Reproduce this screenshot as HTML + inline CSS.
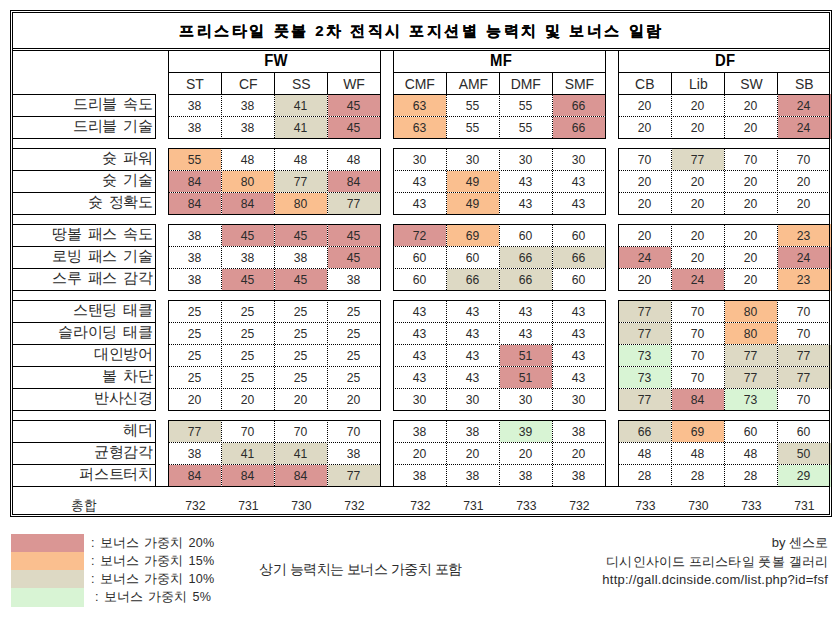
<!DOCTYPE html>
<html><head><meta charset="utf-8"><style>
html,body{margin:0;padding:0;background:#fff;}
body{width:837px;height:617px;position:relative;overflow:hidden;font-family:"Liberation Sans",sans-serif;color:#000;}
body>div{position:absolute;box-sizing:border-box;white-space:nowrap;}
.title{font-size:15px;font-weight:bold;letter-spacing:2.5px;text-indent:1px;-webkit-text-stroke:0.2px #000;}
span{display:inline-block;}
.sec{font-size:16px;font-weight:bold;letter-spacing:0.3px;text-indent:0.3px;}
.sec span{transform:scaleX(0.93);}
.hdr{font-size:15.5px;color:#2b2b2b;}
.hdr span{transform:scaleX(0.9);}
.lab{color:#2b2b2b;font-size:15px;letter-spacing:-0.2px;word-spacing:2.2px;}
.lab span{transform-origin:100% 50%;}
.num{font-size:13.5px;color:#2b2b2b;}
.num span{transform:scaleX(0.9);}
.tot{font-size:13.5px;color:#2b2b2b;}
.tot span{transform:scaleX(0.9);}
.leg{color:#2b2b2b;font-size:12.6px;letter-spacing:0.2px;word-spacing:1.2px;}
.leg2{color:#2b2b2b;font-size:14px;letter-spacing:-0.5px;text-indent:-0.5px;}
.cr{color:#2b2b2b;font-size:13px;}
.url{letter-spacing:0.25px;}
.kr2{letter-spacing:0.15px;}
</style></head><body>
<div style="left:10px;top:10px;width:822px;height:1px;background:#000;"></div>
<div style="left:10px;top:516px;width:822px;height:1px;background:#000;"></div>
<div style="left:10px;top:10px;width:1px;height:507px;background:#000;"></div>
<div style="left:831px;top:10px;width:1px;height:507px;background:#000;"></div>
<div style="left:12px;top:12px;width:818px;height:1px;background:#000;"></div>
<div style="left:12px;top:514px;width:818px;height:1px;background:#000;"></div>
<div style="left:12px;top:12px;width:1px;height:503px;background:#000;"></div>
<div style="left:829px;top:12px;width:1px;height:503px;background:#000;"></div>
<div style="left:12px;top:486px;width:818px;height:1px;background:#000;"></div>
<div style="left:12px;top:48px;width:818px;height:1px;background:#000;"></div>
<div style="left:12px;top:50px;width:818px;height:1px;background:#000;"></div>
<div class="title" style="left:12px;top:13px;width:817px;height:35px;line-height:35px;text-align:center;"><span>프리스타일 풋볼 2차 전직시 포지션별 능력치 및 보너스 일람</span></div>
<div style="left:168px;top:72px;width:213px;height:1px;background:#000;"></div>
<div style="left:168px;top:94px;width:213px;height:1px;background:#000;"></div>
<div style="left:168px;top:50px;width:1px;height:45px;background:#000;"></div>
<div style="left:380px;top:50px;width:1px;height:45px;background:#000;"></div>
<div class="sec" style="left:170px;top:50px;width:211px;height:21px;line-height:21px;text-align:center;"><span>FW</span></div>
<div class="hdr" style="left:169px;top:73px;width:52px;height:21px;line-height:21px;text-align:center;"><span>ST</span></div>
<div style="left:221px;top:72px;width:1px;height:23px;background:#000;"></div>
<div class="hdr" style="left:222px;top:73px;width:52px;height:21px;line-height:21px;text-align:center;"><span>CF</span></div>
<div style="left:274px;top:72px;width:1px;height:23px;background:#000;"></div>
<div class="hdr" style="left:275px;top:73px;width:52px;height:21px;line-height:21px;text-align:center;"><span>SS</span></div>
<div style="left:327px;top:72px;width:1px;height:23px;background:#000;"></div>
<div class="hdr" style="left:328px;top:73px;width:52px;height:21px;line-height:21px;text-align:center;"><span>WF</span></div>
<div style="left:393px;top:72px;width:213px;height:1px;background:#000;"></div>
<div style="left:393px;top:94px;width:213px;height:1px;background:#000;"></div>
<div style="left:393px;top:50px;width:1px;height:45px;background:#000;"></div>
<div style="left:605px;top:50px;width:1px;height:45px;background:#000;"></div>
<div class="sec" style="left:395px;top:50px;width:211px;height:21px;line-height:21px;text-align:center;"><span>MF</span></div>
<div class="hdr" style="left:394px;top:73px;width:52px;height:21px;line-height:21px;text-align:center;"><span>CMF</span></div>
<div style="left:446px;top:72px;width:1px;height:23px;background:#000;"></div>
<div class="hdr" style="left:447px;top:73px;width:52px;height:21px;line-height:21px;text-align:center;"><span>AMF</span></div>
<div style="left:499px;top:72px;width:1px;height:23px;background:#000;"></div>
<div class="hdr" style="left:500px;top:73px;width:52px;height:21px;line-height:21px;text-align:center;"><span>DMF</span></div>
<div style="left:552px;top:72px;width:1px;height:23px;background:#000;"></div>
<div class="hdr" style="left:553px;top:73px;width:52px;height:21px;line-height:21px;text-align:center;"><span>SMF</span></div>
<div style="left:618px;top:72px;width:212px;height:1px;background:#000;"></div>
<div style="left:618px;top:94px;width:212px;height:1px;background:#000;"></div>
<div style="left:618px;top:50px;width:1px;height:45px;background:#000;"></div>
<div style="left:829px;top:50px;width:1px;height:45px;background:#000;"></div>
<div class="sec" style="left:620px;top:50px;width:210px;height:21px;line-height:21px;text-align:center;"><span>DF</span></div>
<div class="hdr" style="left:619px;top:73px;width:52px;height:21px;line-height:21px;text-align:center;"><span>CB</span></div>
<div style="left:671px;top:72px;width:1px;height:23px;background:#000;"></div>
<div class="hdr" style="left:672px;top:73px;width:52px;height:21px;line-height:21px;text-align:center;"><span>Lib</span></div>
<div style="left:724px;top:72px;width:1px;height:23px;background:#000;"></div>
<div class="hdr" style="left:725px;top:73px;width:52px;height:21px;line-height:21px;text-align:center;"><span>SW</span></div>
<div style="left:777px;top:72px;width:1px;height:23px;background:#000;"></div>
<div class="hdr" style="left:778px;top:73px;width:52px;height:21px;line-height:21px;text-align:center;"><span>SB</span></div>
<div style="left:12px;top:94px;width:144px;height:1px;background:#000;"></div>
<div style="left:12px;top:138px;width:144px;height:1px;background:#000;"></div>
<div style="left:155px;top:94px;width:1px;height:45px;background:#000;"></div>
<div class="lab" style="left:13px;top:93px;width:140px;height:21px;line-height:21px;text-align:right;"><span>드리블 속도</span></div>
<div style="left:12px;top:116px;width:144px;height:1px;background:#000;"></div>
<div class="lab" style="left:13px;top:115px;width:140px;height:21px;line-height:21px;text-align:right;"><span>드리블 기술</span></div>
<div class="num" style="left:169px;top:95px;width:52px;height:21px;line-height:21px;text-align:center;"><span>38</span></div>
<div class="num" style="left:222px;top:95px;width:52px;height:21px;line-height:21px;text-align:center;"><span>38</span></div>
<div style="left:275px;top:95px;width:52px;height:21px;background:#DDD9C4;"></div>
<div class="num" style="left:275px;top:95px;width:52px;height:21px;line-height:21px;text-align:center;"><span>41</span></div>
<div style="left:328px;top:95px;width:52px;height:21px;background:#DA9694;"></div>
<div class="num" style="left:328px;top:95px;width:52px;height:21px;line-height:21px;text-align:center;"><span>45</span></div>
<div class="num" style="left:169px;top:117px;width:52px;height:21px;line-height:21px;text-align:center;"><span>38</span></div>
<div class="num" style="left:222px;top:117px;width:52px;height:21px;line-height:21px;text-align:center;"><span>38</span></div>
<div style="left:275px;top:117px;width:52px;height:21px;background:#DDD9C4;"></div>
<div class="num" style="left:275px;top:117px;width:52px;height:21px;line-height:21px;text-align:center;"><span>41</span></div>
<div style="left:328px;top:117px;width:52px;height:21px;background:#DA9694;"></div>
<div class="num" style="left:328px;top:117px;width:52px;height:21px;line-height:21px;text-align:center;"><span>45</span></div>
<div style="left:168px;top:94px;width:213px;height:1px;background:#000;"></div>
<div style="left:168px;top:138px;width:213px;height:1px;background:#000;"></div>
<div style="left:168px;top:94px;width:1px;height:45px;background:#000;"></div>
<div style="left:380px;top:94px;width:1px;height:45px;background:#000;"></div>
<div style="left:169px;top:116px;width:211px;height:1px;background:repeating-linear-gradient(to right,#000 0 1px,#fff 1px 2px);"></div>
<div style="left:221px;top:95px;width:1px;height:43px;background:repeating-linear-gradient(to bottom,#fff 0 1px,#000 1px 2px);"></div>
<div style="left:274px;top:95px;width:1px;height:43px;background:repeating-linear-gradient(to bottom,#000 0 1px,#fff 1px 2px);"></div>
<div style="left:327px;top:95px;width:1px;height:43px;background:repeating-linear-gradient(to bottom,#fff 0 1px,#000 1px 2px);"></div>
<div style="left:394px;top:95px;width:52px;height:21px;background:#FABF8F;"></div>
<div class="num" style="left:394px;top:95px;width:52px;height:21px;line-height:21px;text-align:center;"><span>63</span></div>
<div class="num" style="left:447px;top:95px;width:52px;height:21px;line-height:21px;text-align:center;"><span>55</span></div>
<div class="num" style="left:500px;top:95px;width:52px;height:21px;line-height:21px;text-align:center;"><span>55</span></div>
<div style="left:553px;top:95px;width:52px;height:21px;background:#DA9694;"></div>
<div class="num" style="left:553px;top:95px;width:52px;height:21px;line-height:21px;text-align:center;"><span>66</span></div>
<div style="left:394px;top:117px;width:52px;height:21px;background:#FABF8F;"></div>
<div class="num" style="left:394px;top:117px;width:52px;height:21px;line-height:21px;text-align:center;"><span>63</span></div>
<div class="num" style="left:447px;top:117px;width:52px;height:21px;line-height:21px;text-align:center;"><span>55</span></div>
<div class="num" style="left:500px;top:117px;width:52px;height:21px;line-height:21px;text-align:center;"><span>55</span></div>
<div style="left:553px;top:117px;width:52px;height:21px;background:#DA9694;"></div>
<div class="num" style="left:553px;top:117px;width:52px;height:21px;line-height:21px;text-align:center;"><span>66</span></div>
<div style="left:393px;top:94px;width:213px;height:1px;background:#000;"></div>
<div style="left:393px;top:138px;width:213px;height:1px;background:#000;"></div>
<div style="left:393px;top:94px;width:1px;height:45px;background:#000;"></div>
<div style="left:605px;top:94px;width:1px;height:45px;background:#000;"></div>
<div style="left:394px;top:116px;width:211px;height:1px;background:repeating-linear-gradient(to right,#fff 0 1px,#000 1px 2px);"></div>
<div style="left:446px;top:95px;width:1px;height:43px;background:repeating-linear-gradient(to bottom,#000 0 1px,#fff 1px 2px);"></div>
<div style="left:499px;top:95px;width:1px;height:43px;background:repeating-linear-gradient(to bottom,#fff 0 1px,#000 1px 2px);"></div>
<div style="left:552px;top:95px;width:1px;height:43px;background:repeating-linear-gradient(to bottom,#000 0 1px,#fff 1px 2px);"></div>
<div class="num" style="left:619px;top:95px;width:52px;height:21px;line-height:21px;text-align:center;"><span>20</span></div>
<div class="num" style="left:672px;top:95px;width:52px;height:21px;line-height:21px;text-align:center;"><span>20</span></div>
<div class="num" style="left:725px;top:95px;width:52px;height:21px;line-height:21px;text-align:center;"><span>20</span></div>
<div style="left:778px;top:95px;width:52px;height:21px;background:#DA9694;"></div>
<div style="left:830px;top:94px;width:1px;height:23px;background:#DA9694;"></div>
<div class="num" style="left:778px;top:95px;width:52px;height:21px;line-height:21px;text-align:center;"><span>24</span></div>
<div class="num" style="left:619px;top:117px;width:52px;height:21px;line-height:21px;text-align:center;"><span>20</span></div>
<div class="num" style="left:672px;top:117px;width:52px;height:21px;line-height:21px;text-align:center;"><span>20</span></div>
<div class="num" style="left:725px;top:117px;width:52px;height:21px;line-height:21px;text-align:center;"><span>20</span></div>
<div style="left:778px;top:117px;width:52px;height:21px;background:#DA9694;"></div>
<div style="left:830px;top:117px;width:1px;height:22px;background:#DA9694;"></div>
<div class="num" style="left:778px;top:117px;width:52px;height:21px;line-height:21px;text-align:center;"><span>24</span></div>
<div style="left:618px;top:94px;width:212px;height:1px;background:#000;"></div>
<div style="left:618px;top:138px;width:212px;height:1px;background:#000;"></div>
<div style="left:618px;top:94px;width:1px;height:45px;background:#000;"></div>
<div style="left:829px;top:94px;width:1px;height:45px;background:#000;"></div>
<div style="left:619px;top:116px;width:210px;height:1px;background:repeating-linear-gradient(to right,#000 0 1px,#fff 1px 2px);"></div>
<div style="left:671px;top:95px;width:1px;height:43px;background:repeating-linear-gradient(to bottom,#fff 0 1px,#000 1px 2px);"></div>
<div style="left:724px;top:95px;width:1px;height:43px;background:repeating-linear-gradient(to bottom,#000 0 1px,#fff 1px 2px);"></div>
<div style="left:777px;top:95px;width:1px;height:43px;background:repeating-linear-gradient(to bottom,#fff 0 1px,#000 1px 2px);"></div>
<div style="left:12px;top:148px;width:144px;height:1px;background:#000;"></div>
<div style="left:12px;top:214px;width:144px;height:1px;background:#000;"></div>
<div style="left:155px;top:148px;width:1px;height:67px;background:#000;"></div>
<div class="lab" style="left:13px;top:147px;width:140px;height:21px;line-height:21px;text-align:right;"><span>슛 파워</span></div>
<div style="left:12px;top:170px;width:144px;height:1px;background:#000;"></div>
<div class="lab" style="left:13px;top:169px;width:140px;height:21px;line-height:21px;text-align:right;"><span>슛 기술</span></div>
<div style="left:12px;top:192px;width:144px;height:1px;background:#000;"></div>
<div class="lab" style="left:13px;top:191px;width:140px;height:21px;line-height:21px;text-align:right;"><span>슛 정확도</span></div>
<div style="left:169px;top:149px;width:52px;height:21px;background:#FABF8F;"></div>
<div class="num" style="left:169px;top:149px;width:52px;height:21px;line-height:21px;text-align:center;"><span>55</span></div>
<div class="num" style="left:222px;top:149px;width:52px;height:21px;line-height:21px;text-align:center;"><span>48</span></div>
<div class="num" style="left:275px;top:149px;width:52px;height:21px;line-height:21px;text-align:center;"><span>48</span></div>
<div class="num" style="left:328px;top:149px;width:52px;height:21px;line-height:21px;text-align:center;"><span>48</span></div>
<div style="left:169px;top:171px;width:52px;height:21px;background:#DA9694;"></div>
<div class="num" style="left:169px;top:171px;width:52px;height:21px;line-height:21px;text-align:center;"><span>84</span></div>
<div style="left:222px;top:171px;width:52px;height:21px;background:#FABF8F;"></div>
<div class="num" style="left:222px;top:171px;width:52px;height:21px;line-height:21px;text-align:center;"><span>80</span></div>
<div style="left:275px;top:171px;width:52px;height:21px;background:#DDD9C4;"></div>
<div class="num" style="left:275px;top:171px;width:52px;height:21px;line-height:21px;text-align:center;"><span>77</span></div>
<div style="left:328px;top:171px;width:52px;height:21px;background:#DA9694;"></div>
<div class="num" style="left:328px;top:171px;width:52px;height:21px;line-height:21px;text-align:center;"><span>84</span></div>
<div style="left:169px;top:193px;width:52px;height:21px;background:#DA9694;"></div>
<div class="num" style="left:169px;top:193px;width:52px;height:21px;line-height:21px;text-align:center;"><span>84</span></div>
<div style="left:222px;top:193px;width:52px;height:21px;background:#DA9694;"></div>
<div class="num" style="left:222px;top:193px;width:52px;height:21px;line-height:21px;text-align:center;"><span>84</span></div>
<div style="left:275px;top:193px;width:52px;height:21px;background:#FABF8F;"></div>
<div class="num" style="left:275px;top:193px;width:52px;height:21px;line-height:21px;text-align:center;"><span>80</span></div>
<div style="left:328px;top:193px;width:52px;height:21px;background:#DDD9C4;"></div>
<div class="num" style="left:328px;top:193px;width:52px;height:21px;line-height:21px;text-align:center;"><span>77</span></div>
<div style="left:168px;top:148px;width:213px;height:1px;background:#000;"></div>
<div style="left:168px;top:214px;width:213px;height:1px;background:#000;"></div>
<div style="left:168px;top:148px;width:1px;height:67px;background:#000;"></div>
<div style="left:380px;top:148px;width:1px;height:67px;background:#000;"></div>
<div style="left:169px;top:170px;width:211px;height:1px;background:repeating-linear-gradient(to right,#000 0 1px,#fff 1px 2px);"></div>
<div style="left:169px;top:192px;width:211px;height:1px;background:repeating-linear-gradient(to right,#000 0 1px,#fff 1px 2px);"></div>
<div style="left:221px;top:149px;width:1px;height:65px;background:repeating-linear-gradient(to bottom,#fff 0 1px,#000 1px 2px);"></div>
<div style="left:274px;top:149px;width:1px;height:65px;background:repeating-linear-gradient(to bottom,#000 0 1px,#fff 1px 2px);"></div>
<div style="left:327px;top:149px;width:1px;height:65px;background:repeating-linear-gradient(to bottom,#fff 0 1px,#000 1px 2px);"></div>
<div class="num" style="left:394px;top:149px;width:52px;height:21px;line-height:21px;text-align:center;"><span>30</span></div>
<div class="num" style="left:447px;top:149px;width:52px;height:21px;line-height:21px;text-align:center;"><span>30</span></div>
<div class="num" style="left:500px;top:149px;width:52px;height:21px;line-height:21px;text-align:center;"><span>30</span></div>
<div class="num" style="left:553px;top:149px;width:52px;height:21px;line-height:21px;text-align:center;"><span>30</span></div>
<div class="num" style="left:394px;top:171px;width:52px;height:21px;line-height:21px;text-align:center;"><span>43</span></div>
<div style="left:447px;top:171px;width:52px;height:21px;background:#FABF8F;"></div>
<div class="num" style="left:447px;top:171px;width:52px;height:21px;line-height:21px;text-align:center;"><span>49</span></div>
<div class="num" style="left:500px;top:171px;width:52px;height:21px;line-height:21px;text-align:center;"><span>43</span></div>
<div class="num" style="left:553px;top:171px;width:52px;height:21px;line-height:21px;text-align:center;"><span>43</span></div>
<div class="num" style="left:394px;top:193px;width:52px;height:21px;line-height:21px;text-align:center;"><span>43</span></div>
<div style="left:447px;top:193px;width:52px;height:21px;background:#FABF8F;"></div>
<div class="num" style="left:447px;top:193px;width:52px;height:21px;line-height:21px;text-align:center;"><span>49</span></div>
<div class="num" style="left:500px;top:193px;width:52px;height:21px;line-height:21px;text-align:center;"><span>43</span></div>
<div class="num" style="left:553px;top:193px;width:52px;height:21px;line-height:21px;text-align:center;"><span>43</span></div>
<div style="left:393px;top:148px;width:213px;height:1px;background:#000;"></div>
<div style="left:393px;top:214px;width:213px;height:1px;background:#000;"></div>
<div style="left:393px;top:148px;width:1px;height:67px;background:#000;"></div>
<div style="left:605px;top:148px;width:1px;height:67px;background:#000;"></div>
<div style="left:394px;top:170px;width:211px;height:1px;background:repeating-linear-gradient(to right,#fff 0 1px,#000 1px 2px);"></div>
<div style="left:394px;top:192px;width:211px;height:1px;background:repeating-linear-gradient(to right,#fff 0 1px,#000 1px 2px);"></div>
<div style="left:446px;top:149px;width:1px;height:65px;background:repeating-linear-gradient(to bottom,#000 0 1px,#fff 1px 2px);"></div>
<div style="left:499px;top:149px;width:1px;height:65px;background:repeating-linear-gradient(to bottom,#fff 0 1px,#000 1px 2px);"></div>
<div style="left:552px;top:149px;width:1px;height:65px;background:repeating-linear-gradient(to bottom,#000 0 1px,#fff 1px 2px);"></div>
<div class="num" style="left:619px;top:149px;width:52px;height:21px;line-height:21px;text-align:center;"><span>70</span></div>
<div style="left:672px;top:149px;width:52px;height:21px;background:#DDD9C4;"></div>
<div class="num" style="left:672px;top:149px;width:52px;height:21px;line-height:21px;text-align:center;"><span>77</span></div>
<div class="num" style="left:725px;top:149px;width:52px;height:21px;line-height:21px;text-align:center;"><span>70</span></div>
<div class="num" style="left:778px;top:149px;width:52px;height:21px;line-height:21px;text-align:center;"><span>70</span></div>
<div class="num" style="left:619px;top:171px;width:52px;height:21px;line-height:21px;text-align:center;"><span>20</span></div>
<div class="num" style="left:672px;top:171px;width:52px;height:21px;line-height:21px;text-align:center;"><span>20</span></div>
<div class="num" style="left:725px;top:171px;width:52px;height:21px;line-height:21px;text-align:center;"><span>20</span></div>
<div class="num" style="left:778px;top:171px;width:52px;height:21px;line-height:21px;text-align:center;"><span>20</span></div>
<div class="num" style="left:619px;top:193px;width:52px;height:21px;line-height:21px;text-align:center;"><span>20</span></div>
<div class="num" style="left:672px;top:193px;width:52px;height:21px;line-height:21px;text-align:center;"><span>20</span></div>
<div class="num" style="left:725px;top:193px;width:52px;height:21px;line-height:21px;text-align:center;"><span>20</span></div>
<div class="num" style="left:778px;top:193px;width:52px;height:21px;line-height:21px;text-align:center;"><span>20</span></div>
<div style="left:618px;top:148px;width:212px;height:1px;background:#000;"></div>
<div style="left:618px;top:214px;width:212px;height:1px;background:#000;"></div>
<div style="left:618px;top:148px;width:1px;height:67px;background:#000;"></div>
<div style="left:829px;top:148px;width:1px;height:67px;background:#000;"></div>
<div style="left:619px;top:170px;width:210px;height:1px;background:repeating-linear-gradient(to right,#000 0 1px,#fff 1px 2px);"></div>
<div style="left:619px;top:192px;width:210px;height:1px;background:repeating-linear-gradient(to right,#000 0 1px,#fff 1px 2px);"></div>
<div style="left:671px;top:149px;width:1px;height:65px;background:repeating-linear-gradient(to bottom,#fff 0 1px,#000 1px 2px);"></div>
<div style="left:724px;top:149px;width:1px;height:65px;background:repeating-linear-gradient(to bottom,#000 0 1px,#fff 1px 2px);"></div>
<div style="left:777px;top:149px;width:1px;height:65px;background:repeating-linear-gradient(to bottom,#fff 0 1px,#000 1px 2px);"></div>
<div style="left:12px;top:224px;width:144px;height:1px;background:#000;"></div>
<div style="left:12px;top:290px;width:144px;height:1px;background:#000;"></div>
<div style="left:155px;top:224px;width:1px;height:67px;background:#000;"></div>
<div class="lab" style="left:13px;top:223px;width:140px;height:21px;line-height:21px;text-align:right;"><span>땅볼 패스 속도</span></div>
<div style="left:12px;top:246px;width:144px;height:1px;background:#000;"></div>
<div class="lab" style="left:13px;top:245px;width:140px;height:21px;line-height:21px;text-align:right;"><span>로빙 패스 기술</span></div>
<div style="left:12px;top:268px;width:144px;height:1px;background:#000;"></div>
<div class="lab" style="left:13px;top:267px;width:140px;height:21px;line-height:21px;text-align:right;"><span>스루 패스 감각</span></div>
<div class="num" style="left:169px;top:225px;width:52px;height:21px;line-height:21px;text-align:center;"><span>38</span></div>
<div style="left:222px;top:225px;width:52px;height:21px;background:#DA9694;"></div>
<div class="num" style="left:222px;top:225px;width:52px;height:21px;line-height:21px;text-align:center;"><span>45</span></div>
<div style="left:275px;top:225px;width:52px;height:21px;background:#DA9694;"></div>
<div class="num" style="left:275px;top:225px;width:52px;height:21px;line-height:21px;text-align:center;"><span>45</span></div>
<div style="left:328px;top:225px;width:52px;height:21px;background:#DA9694;"></div>
<div class="num" style="left:328px;top:225px;width:52px;height:21px;line-height:21px;text-align:center;"><span>45</span></div>
<div class="num" style="left:169px;top:247px;width:52px;height:21px;line-height:21px;text-align:center;"><span>38</span></div>
<div class="num" style="left:222px;top:247px;width:52px;height:21px;line-height:21px;text-align:center;"><span>38</span></div>
<div class="num" style="left:275px;top:247px;width:52px;height:21px;line-height:21px;text-align:center;"><span>38</span></div>
<div style="left:328px;top:247px;width:52px;height:21px;background:#DA9694;"></div>
<div class="num" style="left:328px;top:247px;width:52px;height:21px;line-height:21px;text-align:center;"><span>45</span></div>
<div class="num" style="left:169px;top:269px;width:52px;height:21px;line-height:21px;text-align:center;"><span>38</span></div>
<div style="left:222px;top:269px;width:52px;height:21px;background:#DA9694;"></div>
<div class="num" style="left:222px;top:269px;width:52px;height:21px;line-height:21px;text-align:center;"><span>45</span></div>
<div style="left:275px;top:269px;width:52px;height:21px;background:#DA9694;"></div>
<div class="num" style="left:275px;top:269px;width:52px;height:21px;line-height:21px;text-align:center;"><span>45</span></div>
<div class="num" style="left:328px;top:269px;width:52px;height:21px;line-height:21px;text-align:center;"><span>38</span></div>
<div style="left:168px;top:224px;width:213px;height:1px;background:#000;"></div>
<div style="left:168px;top:290px;width:213px;height:1px;background:#000;"></div>
<div style="left:168px;top:224px;width:1px;height:67px;background:#000;"></div>
<div style="left:380px;top:224px;width:1px;height:67px;background:#000;"></div>
<div style="left:169px;top:246px;width:211px;height:1px;background:repeating-linear-gradient(to right,#000 0 1px,#fff 1px 2px);"></div>
<div style="left:169px;top:268px;width:211px;height:1px;background:repeating-linear-gradient(to right,#000 0 1px,#fff 1px 2px);"></div>
<div style="left:221px;top:225px;width:1px;height:65px;background:repeating-linear-gradient(to bottom,#fff 0 1px,#000 1px 2px);"></div>
<div style="left:274px;top:225px;width:1px;height:65px;background:repeating-linear-gradient(to bottom,#000 0 1px,#fff 1px 2px);"></div>
<div style="left:327px;top:225px;width:1px;height:65px;background:repeating-linear-gradient(to bottom,#fff 0 1px,#000 1px 2px);"></div>
<div style="left:394px;top:225px;width:52px;height:21px;background:#DA9694;"></div>
<div class="num" style="left:394px;top:225px;width:52px;height:21px;line-height:21px;text-align:center;"><span>72</span></div>
<div style="left:447px;top:225px;width:52px;height:21px;background:#FABF8F;"></div>
<div class="num" style="left:447px;top:225px;width:52px;height:21px;line-height:21px;text-align:center;"><span>69</span></div>
<div class="num" style="left:500px;top:225px;width:52px;height:21px;line-height:21px;text-align:center;"><span>60</span></div>
<div class="num" style="left:553px;top:225px;width:52px;height:21px;line-height:21px;text-align:center;"><span>60</span></div>
<div class="num" style="left:394px;top:247px;width:52px;height:21px;line-height:21px;text-align:center;"><span>60</span></div>
<div class="num" style="left:447px;top:247px;width:52px;height:21px;line-height:21px;text-align:center;"><span>60</span></div>
<div style="left:500px;top:247px;width:52px;height:21px;background:#DDD9C4;"></div>
<div class="num" style="left:500px;top:247px;width:52px;height:21px;line-height:21px;text-align:center;"><span>66</span></div>
<div style="left:553px;top:247px;width:52px;height:21px;background:#DDD9C4;"></div>
<div class="num" style="left:553px;top:247px;width:52px;height:21px;line-height:21px;text-align:center;"><span>66</span></div>
<div class="num" style="left:394px;top:269px;width:52px;height:21px;line-height:21px;text-align:center;"><span>60</span></div>
<div style="left:447px;top:269px;width:52px;height:21px;background:#DDD9C4;"></div>
<div class="num" style="left:447px;top:269px;width:52px;height:21px;line-height:21px;text-align:center;"><span>66</span></div>
<div style="left:500px;top:269px;width:52px;height:21px;background:#DDD9C4;"></div>
<div class="num" style="left:500px;top:269px;width:52px;height:21px;line-height:21px;text-align:center;"><span>66</span></div>
<div class="num" style="left:553px;top:269px;width:52px;height:21px;line-height:21px;text-align:center;"><span>60</span></div>
<div style="left:393px;top:224px;width:213px;height:1px;background:#000;"></div>
<div style="left:393px;top:290px;width:213px;height:1px;background:#000;"></div>
<div style="left:393px;top:224px;width:1px;height:67px;background:#000;"></div>
<div style="left:605px;top:224px;width:1px;height:67px;background:#000;"></div>
<div style="left:394px;top:246px;width:211px;height:1px;background:repeating-linear-gradient(to right,#fff 0 1px,#000 1px 2px);"></div>
<div style="left:394px;top:268px;width:211px;height:1px;background:repeating-linear-gradient(to right,#fff 0 1px,#000 1px 2px);"></div>
<div style="left:446px;top:225px;width:1px;height:65px;background:repeating-linear-gradient(to bottom,#000 0 1px,#fff 1px 2px);"></div>
<div style="left:499px;top:225px;width:1px;height:65px;background:repeating-linear-gradient(to bottom,#fff 0 1px,#000 1px 2px);"></div>
<div style="left:552px;top:225px;width:1px;height:65px;background:repeating-linear-gradient(to bottom,#000 0 1px,#fff 1px 2px);"></div>
<div class="num" style="left:619px;top:225px;width:52px;height:21px;line-height:21px;text-align:center;"><span>20</span></div>
<div class="num" style="left:672px;top:225px;width:52px;height:21px;line-height:21px;text-align:center;"><span>20</span></div>
<div class="num" style="left:725px;top:225px;width:52px;height:21px;line-height:21px;text-align:center;"><span>20</span></div>
<div style="left:778px;top:225px;width:52px;height:21px;background:#FABF8F;"></div>
<div style="left:830px;top:224px;width:1px;height:23px;background:#FABF8F;"></div>
<div class="num" style="left:778px;top:225px;width:52px;height:21px;line-height:21px;text-align:center;"><span>23</span></div>
<div style="left:619px;top:247px;width:52px;height:21px;background:#DA9694;"></div>
<div class="num" style="left:619px;top:247px;width:52px;height:21px;line-height:21px;text-align:center;"><span>24</span></div>
<div class="num" style="left:672px;top:247px;width:52px;height:21px;line-height:21px;text-align:center;"><span>20</span></div>
<div class="num" style="left:725px;top:247px;width:52px;height:21px;line-height:21px;text-align:center;"><span>20</span></div>
<div style="left:778px;top:247px;width:52px;height:21px;background:#DA9694;"></div>
<div style="left:830px;top:247px;width:1px;height:22px;background:#DA9694;"></div>
<div class="num" style="left:778px;top:247px;width:52px;height:21px;line-height:21px;text-align:center;"><span>24</span></div>
<div class="num" style="left:619px;top:269px;width:52px;height:21px;line-height:21px;text-align:center;"><span>20</span></div>
<div style="left:672px;top:269px;width:52px;height:21px;background:#DA9694;"></div>
<div class="num" style="left:672px;top:269px;width:52px;height:21px;line-height:21px;text-align:center;"><span>24</span></div>
<div class="num" style="left:725px;top:269px;width:52px;height:21px;line-height:21px;text-align:center;"><span>20</span></div>
<div style="left:778px;top:269px;width:52px;height:21px;background:#FABF8F;"></div>
<div style="left:830px;top:269px;width:1px;height:22px;background:#FABF8F;"></div>
<div class="num" style="left:778px;top:269px;width:52px;height:21px;line-height:21px;text-align:center;"><span>23</span></div>
<div style="left:618px;top:224px;width:212px;height:1px;background:#000;"></div>
<div style="left:618px;top:290px;width:212px;height:1px;background:#000;"></div>
<div style="left:618px;top:224px;width:1px;height:67px;background:#000;"></div>
<div style="left:829px;top:224px;width:1px;height:67px;background:#000;"></div>
<div style="left:619px;top:246px;width:210px;height:1px;background:repeating-linear-gradient(to right,#000 0 1px,#fff 1px 2px);"></div>
<div style="left:619px;top:268px;width:210px;height:1px;background:repeating-linear-gradient(to right,#000 0 1px,#fff 1px 2px);"></div>
<div style="left:671px;top:225px;width:1px;height:65px;background:repeating-linear-gradient(to bottom,#fff 0 1px,#000 1px 2px);"></div>
<div style="left:724px;top:225px;width:1px;height:65px;background:repeating-linear-gradient(to bottom,#000 0 1px,#fff 1px 2px);"></div>
<div style="left:777px;top:225px;width:1px;height:65px;background:repeating-linear-gradient(to bottom,#fff 0 1px,#000 1px 2px);"></div>
<div style="left:12px;top:300px;width:144px;height:1px;background:#000;"></div>
<div style="left:12px;top:410px;width:144px;height:1px;background:#000;"></div>
<div style="left:155px;top:300px;width:1px;height:111px;background:#000;"></div>
<div class="lab" style="left:13px;top:299px;width:140px;height:21px;line-height:21px;text-align:right;"><span>스탠딩 태클</span></div>
<div style="left:12px;top:322px;width:144px;height:1px;background:#000;"></div>
<div class="lab" style="left:13px;top:321px;width:140px;height:21px;line-height:21px;text-align:right;"><span>슬라이딩 태클</span></div>
<div style="left:12px;top:344px;width:144px;height:1px;background:#000;"></div>
<div class="lab" style="left:13px;top:343px;width:140px;height:21px;line-height:21px;text-align:right;"><span>대인방어</span></div>
<div style="left:12px;top:366px;width:144px;height:1px;background:#000;"></div>
<div class="lab" style="left:13px;top:365px;width:140px;height:21px;line-height:21px;text-align:right;"><span>볼 차단</span></div>
<div style="left:12px;top:388px;width:144px;height:1px;background:#000;"></div>
<div class="lab" style="left:13px;top:387px;width:140px;height:21px;line-height:21px;text-align:right;"><span>반사신경</span></div>
<div class="num" style="left:169px;top:301px;width:52px;height:21px;line-height:21px;text-align:center;"><span>25</span></div>
<div class="num" style="left:222px;top:301px;width:52px;height:21px;line-height:21px;text-align:center;"><span>25</span></div>
<div class="num" style="left:275px;top:301px;width:52px;height:21px;line-height:21px;text-align:center;"><span>25</span></div>
<div class="num" style="left:328px;top:301px;width:52px;height:21px;line-height:21px;text-align:center;"><span>25</span></div>
<div class="num" style="left:169px;top:323px;width:52px;height:21px;line-height:21px;text-align:center;"><span>25</span></div>
<div class="num" style="left:222px;top:323px;width:52px;height:21px;line-height:21px;text-align:center;"><span>25</span></div>
<div class="num" style="left:275px;top:323px;width:52px;height:21px;line-height:21px;text-align:center;"><span>25</span></div>
<div class="num" style="left:328px;top:323px;width:52px;height:21px;line-height:21px;text-align:center;"><span>25</span></div>
<div class="num" style="left:169px;top:345px;width:52px;height:21px;line-height:21px;text-align:center;"><span>25</span></div>
<div class="num" style="left:222px;top:345px;width:52px;height:21px;line-height:21px;text-align:center;"><span>25</span></div>
<div class="num" style="left:275px;top:345px;width:52px;height:21px;line-height:21px;text-align:center;"><span>25</span></div>
<div class="num" style="left:328px;top:345px;width:52px;height:21px;line-height:21px;text-align:center;"><span>25</span></div>
<div class="num" style="left:169px;top:367px;width:52px;height:21px;line-height:21px;text-align:center;"><span>25</span></div>
<div class="num" style="left:222px;top:367px;width:52px;height:21px;line-height:21px;text-align:center;"><span>25</span></div>
<div class="num" style="left:275px;top:367px;width:52px;height:21px;line-height:21px;text-align:center;"><span>25</span></div>
<div class="num" style="left:328px;top:367px;width:52px;height:21px;line-height:21px;text-align:center;"><span>25</span></div>
<div class="num" style="left:169px;top:389px;width:52px;height:21px;line-height:21px;text-align:center;"><span>20</span></div>
<div class="num" style="left:222px;top:389px;width:52px;height:21px;line-height:21px;text-align:center;"><span>20</span></div>
<div class="num" style="left:275px;top:389px;width:52px;height:21px;line-height:21px;text-align:center;"><span>20</span></div>
<div class="num" style="left:328px;top:389px;width:52px;height:21px;line-height:21px;text-align:center;"><span>20</span></div>
<div style="left:168px;top:300px;width:213px;height:1px;background:#000;"></div>
<div style="left:168px;top:410px;width:213px;height:1px;background:#000;"></div>
<div style="left:168px;top:300px;width:1px;height:111px;background:#000;"></div>
<div style="left:380px;top:300px;width:1px;height:111px;background:#000;"></div>
<div style="left:169px;top:322px;width:211px;height:1px;background:repeating-linear-gradient(to right,#000 0 1px,#fff 1px 2px);"></div>
<div style="left:169px;top:344px;width:211px;height:1px;background:repeating-linear-gradient(to right,#000 0 1px,#fff 1px 2px);"></div>
<div style="left:169px;top:366px;width:211px;height:1px;background:repeating-linear-gradient(to right,#000 0 1px,#fff 1px 2px);"></div>
<div style="left:169px;top:388px;width:211px;height:1px;background:repeating-linear-gradient(to right,#000 0 1px,#fff 1px 2px);"></div>
<div style="left:221px;top:301px;width:1px;height:109px;background:repeating-linear-gradient(to bottom,#fff 0 1px,#000 1px 2px);"></div>
<div style="left:274px;top:301px;width:1px;height:109px;background:repeating-linear-gradient(to bottom,#000 0 1px,#fff 1px 2px);"></div>
<div style="left:327px;top:301px;width:1px;height:109px;background:repeating-linear-gradient(to bottom,#fff 0 1px,#000 1px 2px);"></div>
<div class="num" style="left:394px;top:301px;width:52px;height:21px;line-height:21px;text-align:center;"><span>43</span></div>
<div class="num" style="left:447px;top:301px;width:52px;height:21px;line-height:21px;text-align:center;"><span>43</span></div>
<div class="num" style="left:500px;top:301px;width:52px;height:21px;line-height:21px;text-align:center;"><span>43</span></div>
<div class="num" style="left:553px;top:301px;width:52px;height:21px;line-height:21px;text-align:center;"><span>43</span></div>
<div class="num" style="left:394px;top:323px;width:52px;height:21px;line-height:21px;text-align:center;"><span>43</span></div>
<div class="num" style="left:447px;top:323px;width:52px;height:21px;line-height:21px;text-align:center;"><span>43</span></div>
<div class="num" style="left:500px;top:323px;width:52px;height:21px;line-height:21px;text-align:center;"><span>43</span></div>
<div class="num" style="left:553px;top:323px;width:52px;height:21px;line-height:21px;text-align:center;"><span>43</span></div>
<div class="num" style="left:394px;top:345px;width:52px;height:21px;line-height:21px;text-align:center;"><span>43</span></div>
<div class="num" style="left:447px;top:345px;width:52px;height:21px;line-height:21px;text-align:center;"><span>43</span></div>
<div style="left:500px;top:345px;width:52px;height:21px;background:#DA9694;"></div>
<div class="num" style="left:500px;top:345px;width:52px;height:21px;line-height:21px;text-align:center;"><span>51</span></div>
<div class="num" style="left:553px;top:345px;width:52px;height:21px;line-height:21px;text-align:center;"><span>43</span></div>
<div class="num" style="left:394px;top:367px;width:52px;height:21px;line-height:21px;text-align:center;"><span>43</span></div>
<div class="num" style="left:447px;top:367px;width:52px;height:21px;line-height:21px;text-align:center;"><span>43</span></div>
<div style="left:500px;top:367px;width:52px;height:21px;background:#DA9694;"></div>
<div class="num" style="left:500px;top:367px;width:52px;height:21px;line-height:21px;text-align:center;"><span>51</span></div>
<div class="num" style="left:553px;top:367px;width:52px;height:21px;line-height:21px;text-align:center;"><span>43</span></div>
<div class="num" style="left:394px;top:389px;width:52px;height:21px;line-height:21px;text-align:center;"><span>30</span></div>
<div class="num" style="left:447px;top:389px;width:52px;height:21px;line-height:21px;text-align:center;"><span>30</span></div>
<div class="num" style="left:500px;top:389px;width:52px;height:21px;line-height:21px;text-align:center;"><span>30</span></div>
<div class="num" style="left:553px;top:389px;width:52px;height:21px;line-height:21px;text-align:center;"><span>30</span></div>
<div style="left:393px;top:300px;width:213px;height:1px;background:#000;"></div>
<div style="left:393px;top:410px;width:213px;height:1px;background:#000;"></div>
<div style="left:393px;top:300px;width:1px;height:111px;background:#000;"></div>
<div style="left:605px;top:300px;width:1px;height:111px;background:#000;"></div>
<div style="left:394px;top:322px;width:211px;height:1px;background:repeating-linear-gradient(to right,#fff 0 1px,#000 1px 2px);"></div>
<div style="left:394px;top:344px;width:211px;height:1px;background:repeating-linear-gradient(to right,#fff 0 1px,#000 1px 2px);"></div>
<div style="left:394px;top:366px;width:211px;height:1px;background:repeating-linear-gradient(to right,#fff 0 1px,#000 1px 2px);"></div>
<div style="left:394px;top:388px;width:211px;height:1px;background:repeating-linear-gradient(to right,#fff 0 1px,#000 1px 2px);"></div>
<div style="left:446px;top:301px;width:1px;height:109px;background:repeating-linear-gradient(to bottom,#000 0 1px,#fff 1px 2px);"></div>
<div style="left:499px;top:301px;width:1px;height:109px;background:repeating-linear-gradient(to bottom,#fff 0 1px,#000 1px 2px);"></div>
<div style="left:552px;top:301px;width:1px;height:109px;background:repeating-linear-gradient(to bottom,#000 0 1px,#fff 1px 2px);"></div>
<div style="left:619px;top:301px;width:52px;height:21px;background:#DDD9C4;"></div>
<div class="num" style="left:619px;top:301px;width:52px;height:21px;line-height:21px;text-align:center;"><span>77</span></div>
<div class="num" style="left:672px;top:301px;width:52px;height:21px;line-height:21px;text-align:center;"><span>70</span></div>
<div style="left:725px;top:301px;width:52px;height:21px;background:#FABF8F;"></div>
<div class="num" style="left:725px;top:301px;width:52px;height:21px;line-height:21px;text-align:center;"><span>80</span></div>
<div class="num" style="left:778px;top:301px;width:52px;height:21px;line-height:21px;text-align:center;"><span>70</span></div>
<div style="left:619px;top:323px;width:52px;height:21px;background:#DDD9C4;"></div>
<div class="num" style="left:619px;top:323px;width:52px;height:21px;line-height:21px;text-align:center;"><span>77</span></div>
<div class="num" style="left:672px;top:323px;width:52px;height:21px;line-height:21px;text-align:center;"><span>70</span></div>
<div style="left:725px;top:323px;width:52px;height:21px;background:#FABF8F;"></div>
<div class="num" style="left:725px;top:323px;width:52px;height:21px;line-height:21px;text-align:center;"><span>80</span></div>
<div class="num" style="left:778px;top:323px;width:52px;height:21px;line-height:21px;text-align:center;"><span>70</span></div>
<div style="left:619px;top:345px;width:52px;height:21px;background:#D8F4D4;"></div>
<div class="num" style="left:619px;top:345px;width:52px;height:21px;line-height:21px;text-align:center;"><span>73</span></div>
<div class="num" style="left:672px;top:345px;width:52px;height:21px;line-height:21px;text-align:center;"><span>70</span></div>
<div style="left:725px;top:345px;width:52px;height:21px;background:#DDD9C4;"></div>
<div class="num" style="left:725px;top:345px;width:52px;height:21px;line-height:21px;text-align:center;"><span>77</span></div>
<div style="left:778px;top:345px;width:52px;height:21px;background:#DDD9C4;"></div>
<div style="left:830px;top:345px;width:1px;height:22px;background:#DDD9C4;"></div>
<div class="num" style="left:778px;top:345px;width:52px;height:21px;line-height:21px;text-align:center;"><span>77</span></div>
<div style="left:619px;top:367px;width:52px;height:21px;background:#D8F4D4;"></div>
<div class="num" style="left:619px;top:367px;width:52px;height:21px;line-height:21px;text-align:center;"><span>73</span></div>
<div class="num" style="left:672px;top:367px;width:52px;height:21px;line-height:21px;text-align:center;"><span>70</span></div>
<div style="left:725px;top:367px;width:52px;height:21px;background:#DDD9C4;"></div>
<div class="num" style="left:725px;top:367px;width:52px;height:21px;line-height:21px;text-align:center;"><span>77</span></div>
<div style="left:778px;top:367px;width:52px;height:21px;background:#DDD9C4;"></div>
<div style="left:830px;top:367px;width:1px;height:22px;background:#DDD9C4;"></div>
<div class="num" style="left:778px;top:367px;width:52px;height:21px;line-height:21px;text-align:center;"><span>77</span></div>
<div style="left:619px;top:389px;width:52px;height:21px;background:#DDD9C4;"></div>
<div class="num" style="left:619px;top:389px;width:52px;height:21px;line-height:21px;text-align:center;"><span>77</span></div>
<div style="left:672px;top:389px;width:52px;height:21px;background:#DA9694;"></div>
<div class="num" style="left:672px;top:389px;width:52px;height:21px;line-height:21px;text-align:center;"><span>84</span></div>
<div style="left:725px;top:389px;width:52px;height:21px;background:#D8F4D4;"></div>
<div class="num" style="left:725px;top:389px;width:52px;height:21px;line-height:21px;text-align:center;"><span>73</span></div>
<div class="num" style="left:778px;top:389px;width:52px;height:21px;line-height:21px;text-align:center;"><span>70</span></div>
<div style="left:618px;top:300px;width:212px;height:1px;background:#000;"></div>
<div style="left:618px;top:410px;width:212px;height:1px;background:#000;"></div>
<div style="left:618px;top:300px;width:1px;height:111px;background:#000;"></div>
<div style="left:829px;top:300px;width:1px;height:111px;background:#000;"></div>
<div style="left:619px;top:322px;width:210px;height:1px;background:repeating-linear-gradient(to right,#000 0 1px,#fff 1px 2px);"></div>
<div style="left:619px;top:344px;width:210px;height:1px;background:repeating-linear-gradient(to right,#000 0 1px,#fff 1px 2px);"></div>
<div style="left:619px;top:366px;width:210px;height:1px;background:repeating-linear-gradient(to right,#000 0 1px,#fff 1px 2px);"></div>
<div style="left:619px;top:388px;width:210px;height:1px;background:repeating-linear-gradient(to right,#000 0 1px,#fff 1px 2px);"></div>
<div style="left:671px;top:301px;width:1px;height:109px;background:repeating-linear-gradient(to bottom,#fff 0 1px,#000 1px 2px);"></div>
<div style="left:724px;top:301px;width:1px;height:109px;background:repeating-linear-gradient(to bottom,#000 0 1px,#fff 1px 2px);"></div>
<div style="left:777px;top:301px;width:1px;height:109px;background:repeating-linear-gradient(to bottom,#fff 0 1px,#000 1px 2px);"></div>
<div style="left:12px;top:420px;width:144px;height:1px;background:#000;"></div>
<div style="left:12px;top:486px;width:144px;height:1px;background:#000;"></div>
<div style="left:155px;top:420px;width:1px;height:67px;background:#000;"></div>
<div class="lab" style="left:13px;top:419px;width:140px;height:21px;line-height:21px;text-align:right;"><span>헤더</span></div>
<div style="left:12px;top:442px;width:144px;height:1px;background:#000;"></div>
<div class="lab" style="left:13px;top:441px;width:140px;height:21px;line-height:21px;text-align:right;"><span>균형감각</span></div>
<div style="left:12px;top:464px;width:144px;height:1px;background:#000;"></div>
<div class="lab" style="left:13px;top:463px;width:140px;height:21px;line-height:21px;text-align:right;"><span>퍼스트터치</span></div>
<div style="left:169px;top:421px;width:52px;height:21px;background:#DDD9C4;"></div>
<div class="num" style="left:169px;top:421px;width:52px;height:21px;line-height:21px;text-align:center;"><span>77</span></div>
<div class="num" style="left:222px;top:421px;width:52px;height:21px;line-height:21px;text-align:center;"><span>70</span></div>
<div class="num" style="left:275px;top:421px;width:52px;height:21px;line-height:21px;text-align:center;"><span>70</span></div>
<div class="num" style="left:328px;top:421px;width:52px;height:21px;line-height:21px;text-align:center;"><span>70</span></div>
<div class="num" style="left:169px;top:443px;width:52px;height:21px;line-height:21px;text-align:center;"><span>38</span></div>
<div style="left:222px;top:443px;width:52px;height:21px;background:#DDD9C4;"></div>
<div class="num" style="left:222px;top:443px;width:52px;height:21px;line-height:21px;text-align:center;"><span>41</span></div>
<div style="left:275px;top:443px;width:52px;height:21px;background:#DDD9C4;"></div>
<div class="num" style="left:275px;top:443px;width:52px;height:21px;line-height:21px;text-align:center;"><span>41</span></div>
<div class="num" style="left:328px;top:443px;width:52px;height:21px;line-height:21px;text-align:center;"><span>38</span></div>
<div style="left:169px;top:465px;width:52px;height:21px;background:#DA9694;"></div>
<div class="num" style="left:169px;top:465px;width:52px;height:21px;line-height:21px;text-align:center;"><span>84</span></div>
<div style="left:222px;top:465px;width:52px;height:21px;background:#DA9694;"></div>
<div class="num" style="left:222px;top:465px;width:52px;height:21px;line-height:21px;text-align:center;"><span>84</span></div>
<div style="left:275px;top:465px;width:52px;height:21px;background:#DA9694;"></div>
<div class="num" style="left:275px;top:465px;width:52px;height:21px;line-height:21px;text-align:center;"><span>84</span></div>
<div style="left:328px;top:465px;width:52px;height:21px;background:#DDD9C4;"></div>
<div class="num" style="left:328px;top:465px;width:52px;height:21px;line-height:21px;text-align:center;"><span>77</span></div>
<div style="left:168px;top:420px;width:213px;height:1px;background:#000;"></div>
<div style="left:168px;top:486px;width:213px;height:1px;background:#000;"></div>
<div style="left:168px;top:420px;width:1px;height:67px;background:#000;"></div>
<div style="left:380px;top:420px;width:1px;height:67px;background:#000;"></div>
<div style="left:169px;top:442px;width:211px;height:1px;background:repeating-linear-gradient(to right,#000 0 1px,#fff 1px 2px);"></div>
<div style="left:169px;top:464px;width:211px;height:1px;background:repeating-linear-gradient(to right,#000 0 1px,#fff 1px 2px);"></div>
<div style="left:221px;top:421px;width:1px;height:65px;background:repeating-linear-gradient(to bottom,#fff 0 1px,#000 1px 2px);"></div>
<div style="left:274px;top:421px;width:1px;height:65px;background:repeating-linear-gradient(to bottom,#000 0 1px,#fff 1px 2px);"></div>
<div style="left:327px;top:421px;width:1px;height:65px;background:repeating-linear-gradient(to bottom,#fff 0 1px,#000 1px 2px);"></div>
<div class="num" style="left:394px;top:421px;width:52px;height:21px;line-height:21px;text-align:center;"><span>38</span></div>
<div class="num" style="left:447px;top:421px;width:52px;height:21px;line-height:21px;text-align:center;"><span>38</span></div>
<div style="left:500px;top:421px;width:52px;height:21px;background:#D8F4D4;"></div>
<div class="num" style="left:500px;top:421px;width:52px;height:21px;line-height:21px;text-align:center;"><span>39</span></div>
<div class="num" style="left:553px;top:421px;width:52px;height:21px;line-height:21px;text-align:center;"><span>38</span></div>
<div class="num" style="left:394px;top:443px;width:52px;height:21px;line-height:21px;text-align:center;"><span>20</span></div>
<div class="num" style="left:447px;top:443px;width:52px;height:21px;line-height:21px;text-align:center;"><span>20</span></div>
<div class="num" style="left:500px;top:443px;width:52px;height:21px;line-height:21px;text-align:center;"><span>20</span></div>
<div class="num" style="left:553px;top:443px;width:52px;height:21px;line-height:21px;text-align:center;"><span>20</span></div>
<div class="num" style="left:394px;top:465px;width:52px;height:21px;line-height:21px;text-align:center;"><span>38</span></div>
<div class="num" style="left:447px;top:465px;width:52px;height:21px;line-height:21px;text-align:center;"><span>38</span></div>
<div class="num" style="left:500px;top:465px;width:52px;height:21px;line-height:21px;text-align:center;"><span>38</span></div>
<div class="num" style="left:553px;top:465px;width:52px;height:21px;line-height:21px;text-align:center;"><span>38</span></div>
<div style="left:393px;top:420px;width:213px;height:1px;background:#000;"></div>
<div style="left:393px;top:486px;width:213px;height:1px;background:#000;"></div>
<div style="left:393px;top:420px;width:1px;height:67px;background:#000;"></div>
<div style="left:605px;top:420px;width:1px;height:67px;background:#000;"></div>
<div style="left:394px;top:442px;width:211px;height:1px;background:repeating-linear-gradient(to right,#fff 0 1px,#000 1px 2px);"></div>
<div style="left:394px;top:464px;width:211px;height:1px;background:repeating-linear-gradient(to right,#fff 0 1px,#000 1px 2px);"></div>
<div style="left:446px;top:421px;width:1px;height:65px;background:repeating-linear-gradient(to bottom,#000 0 1px,#fff 1px 2px);"></div>
<div style="left:499px;top:421px;width:1px;height:65px;background:repeating-linear-gradient(to bottom,#fff 0 1px,#000 1px 2px);"></div>
<div style="left:552px;top:421px;width:1px;height:65px;background:repeating-linear-gradient(to bottom,#000 0 1px,#fff 1px 2px);"></div>
<div style="left:619px;top:421px;width:52px;height:21px;background:#DDD9C4;"></div>
<div class="num" style="left:619px;top:421px;width:52px;height:21px;line-height:21px;text-align:center;"><span>66</span></div>
<div style="left:672px;top:421px;width:52px;height:21px;background:#FABF8F;"></div>
<div class="num" style="left:672px;top:421px;width:52px;height:21px;line-height:21px;text-align:center;"><span>69</span></div>
<div class="num" style="left:725px;top:421px;width:52px;height:21px;line-height:21px;text-align:center;"><span>60</span></div>
<div class="num" style="left:778px;top:421px;width:52px;height:21px;line-height:21px;text-align:center;"><span>60</span></div>
<div class="num" style="left:619px;top:443px;width:52px;height:21px;line-height:21px;text-align:center;"><span>48</span></div>
<div class="num" style="left:672px;top:443px;width:52px;height:21px;line-height:21px;text-align:center;"><span>48</span></div>
<div class="num" style="left:725px;top:443px;width:52px;height:21px;line-height:21px;text-align:center;"><span>48</span></div>
<div style="left:778px;top:443px;width:52px;height:21px;background:#DDD9C4;"></div>
<div style="left:830px;top:443px;width:1px;height:22px;background:#DDD9C4;"></div>
<div class="num" style="left:778px;top:443px;width:52px;height:21px;line-height:21px;text-align:center;"><span>50</span></div>
<div class="num" style="left:619px;top:465px;width:52px;height:21px;line-height:21px;text-align:center;"><span>28</span></div>
<div class="num" style="left:672px;top:465px;width:52px;height:21px;line-height:21px;text-align:center;"><span>28</span></div>
<div class="num" style="left:725px;top:465px;width:52px;height:21px;line-height:21px;text-align:center;"><span>28</span></div>
<div style="left:778px;top:465px;width:52px;height:21px;background:#D8F4D4;"></div>
<div style="left:830px;top:465px;width:1px;height:22px;background:#D8F4D4;"></div>
<div class="num" style="left:778px;top:465px;width:52px;height:21px;line-height:21px;text-align:center;"><span>29</span></div>
<div style="left:618px;top:420px;width:212px;height:1px;background:#000;"></div>
<div style="left:618px;top:486px;width:212px;height:1px;background:#000;"></div>
<div style="left:618px;top:420px;width:1px;height:67px;background:#000;"></div>
<div style="left:829px;top:420px;width:1px;height:67px;background:#000;"></div>
<div style="left:619px;top:442px;width:210px;height:1px;background:repeating-linear-gradient(to right,#000 0 1px,#fff 1px 2px);"></div>
<div style="left:619px;top:464px;width:210px;height:1px;background:repeating-linear-gradient(to right,#000 0 1px,#fff 1px 2px);"></div>
<div style="left:671px;top:421px;width:1px;height:65px;background:repeating-linear-gradient(to bottom,#fff 0 1px,#000 1px 2px);"></div>
<div style="left:724px;top:421px;width:1px;height:65px;background:repeating-linear-gradient(to bottom,#000 0 1px,#fff 1px 2px);"></div>
<div style="left:777px;top:421px;width:1px;height:65px;background:repeating-linear-gradient(to bottom,#fff 0 1px,#000 1px 2px);"></div>
<div class="tot" style="left:13px;top:493px;width:142px;height:26px;line-height:26px;text-align:center;"><span>총합</span></div>
<div class="tot" style="left:169px;top:493px;width:52px;height:26px;line-height:26px;text-align:center;"><span>732</span></div>
<div class="tot" style="left:222px;top:493px;width:52px;height:26px;line-height:26px;text-align:center;"><span>731</span></div>
<div class="tot" style="left:275px;top:493px;width:52px;height:26px;line-height:26px;text-align:center;"><span>730</span></div>
<div class="tot" style="left:328px;top:493px;width:52px;height:26px;line-height:26px;text-align:center;"><span>732</span></div>
<div class="tot" style="left:394px;top:493px;width:52px;height:26px;line-height:26px;text-align:center;"><span>732</span></div>
<div class="tot" style="left:447px;top:493px;width:52px;height:26px;line-height:26px;text-align:center;"><span>731</span></div>
<div class="tot" style="left:500px;top:493px;width:52px;height:26px;line-height:26px;text-align:center;"><span>733</span></div>
<div class="tot" style="left:553px;top:493px;width:52px;height:26px;line-height:26px;text-align:center;"><span>732</span></div>
<div class="tot" style="left:619px;top:493px;width:52px;height:26px;line-height:26px;text-align:center;"><span>733</span></div>
<div class="tot" style="left:672px;top:493px;width:52px;height:26px;line-height:26px;text-align:center;"><span>730</span></div>
<div class="tot" style="left:725px;top:493px;width:52px;height:26px;line-height:26px;text-align:center;"><span>733</span></div>
<div class="tot" style="left:778px;top:493px;width:52px;height:26px;line-height:26px;text-align:center;"><span>731</span></div>
<div style="left:11px;top:534px;width:73px;height:18px;background:#DA9694;"></div>
<div style="left:11px;top:552px;width:73px;height:18px;background:#FABF8F;"></div>
<div style="left:11px;top:570px;width:73px;height:18px;background:#DDD9C4;"></div>
<div style="left:11px;top:588px;width:73px;height:19px;background:#D8F4D4;"></div>
<div class="leg" style="left:91px;top:534px;width:200px;height:18px;line-height:18px;text-align:left;"><span>: 보너스 가중치 20%</span></div>
<div class="leg" style="left:91px;top:552px;width:200px;height:18px;line-height:18px;text-align:left;"><span>: 보너스 가중치 15%</span></div>
<div class="leg" style="left:91px;top:570px;width:200px;height:18px;line-height:18px;text-align:left;"><span>: 보너스 가중치 10%</span></div>
<div class="leg" style="left:95px;top:588px;width:200px;height:18px;line-height:18px;text-align:left;"><span>: 보너스 가중치 5%</span></div>
<div class="leg2" style="left:231px;top:559px;width:260px;height:20px;line-height:20px;text-align:center;"><span>상기 능력치는 보너스 가중치 포함</span></div>
<div class="cr" style="left:500px;top:534px;width:328px;height:18px;line-height:18px;text-align:right;"><span>by 센스로</span></div>
<div class="cr kr2" style="left:500px;top:553px;width:328px;height:18px;line-height:18px;text-align:right;"><span>디시인사이드 프리스타일 풋볼 갤러리</span></div>
<div class="cr url" style="left:500px;top:571px;width:328px;height:18px;line-height:18px;text-align:right;"><span>http://gall.dcinside.com/list.php?id=fsf</span></div>
</body></html>
